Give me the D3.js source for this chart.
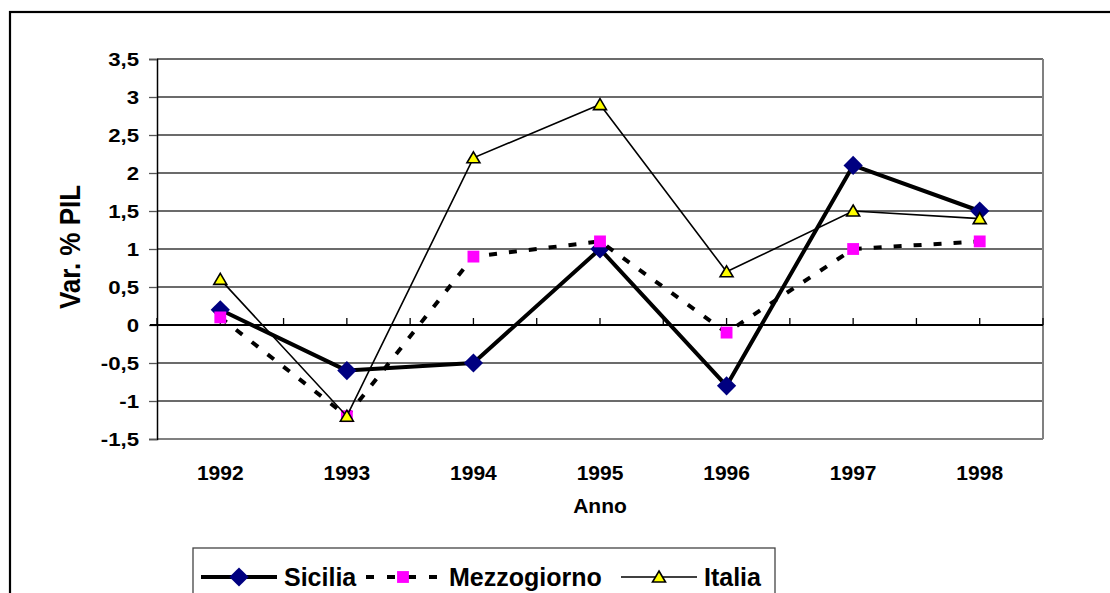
<!DOCTYPE html>
<html><head><meta charset="utf-8">
<script src="https://cdn.jsdelivr.net/npm/d3@7"></script>
<style>
body{margin:0;background:#fff}
svg{display:block}
text{font-family:"Liberation Sans",Arial,Helvetica,sans-serif;font-weight:bold;fill:#000}
</style>
</head><body>
<svg id="c" width="1110" height="593"></svg>
<script>
const years = ["1992","1993","1994","1995","1996","1997","1998"];
const sicilia = [0.2,-0.6,-0.5,1.0,-0.8,2.1,1.5];
const mezzogiorno = [0.1,-1.2,0.9,1.1,-0.1,1.0,1.1];
const italia = [0.6,-1.2,2.2,2.9,0.7,1.5,1.4];
const yTicks = [-1.5,-1,-0.5,0,0.5,1,1.5,2,2.5,3,3.5];
const yTickLabels = ["-1,5","-1","-0,5","0","0,5","1","1,5","2","2,5","3","3,5"];
const seriesNames = ["Sicilia","Mezzogiorno","Italia"];
const xTitle = "Anno";
const yTitle = "Var. % PIL";

const svg = d3.select("#c");
const L = 157, R = 1043, T = 59, B = 439;
const x = d3.scaleBand().domain(years).range([L, R]);
const y = d3.scaleLinear().domain([-1.5, 3.5]).range([B, T]);
const cx = d => x(d) + x.bandwidth() / 2;

// outer chart border
svg.append("rect").attr("x",10).attr("y",12).attr("width",1300).attr("height",800)
  .attr("fill","none").attr("stroke","#000").attr("stroke-width",2.2);

// gridlines
svg.append("g").selectAll("line").data(yTicks).join("line")
  .attr("x1",L).attr("x2",R).attr("y1",d=>y(d)).attr("y2",d=>y(d))
  .attr("stroke","#3a3a3a").attr("stroke-width",1.3);

// plot area border (right & bottom gray)
svg.append("line").attr("x1",R).attr("x2",R).attr("y1",T).attr("y2",B)
  .attr("stroke","#808080").attr("stroke-width",2);
svg.append("line").attr("x1",L).attr("x2",R).attr("y1",B).attr("y2",B)
  .attr("stroke","#808080").attr("stroke-width",2);

// y axis
const yAxis = d3.axisLeft(y).tickValues(yTicks).tickSize(8).tickFormat("");
const gy = svg.append("g").attr("transform",`translate(${L},0)`).call(yAxis);
gy.select(".domain").attr("stroke","#000").attr("stroke-width",1.5);
gy.selectAll(".tick line").attr("stroke","#555").attr("stroke-width",1.3);
svg.append("g").selectAll("text").data(yTicks).join("text")
  .attr("text-anchor","end")
  .attr("transform",d=>`translate(139,${y(d)+6.8}) scale(1.17,1)`)
  .style("font-size","19px")
  .text((d,i)=>yTickLabels[i]);

// x axis at zero
const halfTicks = [];
years.forEach(yr => { halfTicks.push(x(yr)); halfTicks.push(cx(yr)); });
halfTicks.push(x.range()[1]);
svg.append("g").selectAll("line").data(halfTicks).join("line")
  .attr("x1",d=>d).attr("x2",d=>d).attr("y1",y(0)).attr("y2",y(0)-7)
  .attr("stroke","#000").attr("stroke-width",1.3);
svg.append("line").attr("x1",L-7).attr("x2",R).attr("y1",y(0)).attr("y2",y(0))
  .attr("stroke","#000").attr("stroke-width",2);

// x tick labels
svg.append("g").selectAll("text").data(years).join("text")
  .attr("x",d=>cx(d)).attr("y",480).attr("text-anchor","middle")
  .style("font-size","21px").text(d=>d);

// axis titles
svg.append("text").attr("x",(L+R)/2).attr("y",513).attr("text-anchor","middle")
  .style("font-size","21px").text(xTitle);
svg.append("text").attr("text-anchor","middle")
  .attr("transform",`translate(80,247) rotate(-90) scale(1,1.12)`)
  .style("font-size","26px").text(yTitle);

// series
const line = d3.line().x((d,i)=>cx(years[i])).y(d=>y(d));
const diamond = d3.symbol(d3.symbolSquare, 185);
const square = d3.symbol(d3.symbolSquare, 140);
const tri = "M0,-6L6.5,5L-6.5,5Z";

function drawSicilia(g, data){
  g.append("path").datum(data).attr("d",line).attr("fill","none")
    .attr("stroke","#000").attr("stroke-width",4).attr("stroke-linejoin","round");
  g.selectAll("path.m").data(data).join("path").attr("class","m")
    .attr("d",diamond).attr("fill","#000080")
    .attr("transform",(d,i)=>`translate(${cx(years[i])},${y(d)}) rotate(45)`);
}
function drawMezz(g, data){
  g.append("path").datum(data).attr("d",line).attr("fill","none")
    .attr("stroke","#000").attr("stroke-width",4).attr("stroke-dasharray","8,12");
  g.selectAll("path.m").data(data).join("path").attr("class","m")
    .attr("d",square).attr("fill","#FF00FF")
    .attr("transform",(d,i)=>`translate(${cx(years[i])},${y(d)})`);
}
function drawItalia(g, data){
  g.append("path").datum(data).attr("d",line).attr("fill","none")
    .attr("stroke","#000").attr("stroke-width",1.6);
  g.selectAll("path.m").data(data).join("path").attr("class","m")
    .attr("d",tri).attr("fill","#FFFF00").attr("stroke","#000").attr("stroke-width",1.6)
    .attr("transform",(d,i)=>`translate(${cx(years[i])},${y(d)})`);
}
drawSicilia(svg.append("g"), sicilia);
drawMezz(svg.append("g"), mezzogiorno);
drawItalia(svg.append("g"), italia);

// legend
const lg = svg.append("g");
lg.append("rect").attr("x",193).attr("y",548).attr("width",582).attr("height",100)
  .attr("fill","#fff").attr("stroke","#444").attr("stroke-width",1.3);
const ly = 577;
lg.append("line").attr("x1",201).attr("x2",277).attr("y1",ly).attr("y2",ly)
  .attr("stroke","#000").attr("stroke-width",4);
lg.append("path").attr("d",diamond).attr("fill","#000080")
  .attr("transform",`translate(239,${ly}) rotate(45)`);
lg.append("text").attr("x",284).attr("y",ly+9).style("font-size","25px").text(seriesNames[0]);
lg.append("line").attr("x1",366).attr("x2",441).attr("y1",ly).attr("y2",ly)
  .attr("stroke","#000").attr("stroke-width",4).attr("stroke-dasharray","8,13");
lg.append("path").attr("d",square).attr("fill","#FF00FF")
  .attr("transform",`translate(403,${ly})`);
lg.append("text").attr("x",449).attr("y",ly+9).style("font-size","25px").text(seriesNames[1]);
lg.append("line").attr("x1",621).attr("x2",697).attr("y1",ly).attr("y2",ly)
  .attr("stroke","#000").attr("stroke-width",1.6);
lg.append("path").attr("d",tri).attr("fill","#FFFF00").attr("stroke","#000").attr("stroke-width",1.6)
  .attr("transform",`translate(659,${ly})`);
lg.append("text").attr("x",704).attr("y",ly+9).style("font-size","25px").text(seriesNames[2]);
</script>
</body></html>
